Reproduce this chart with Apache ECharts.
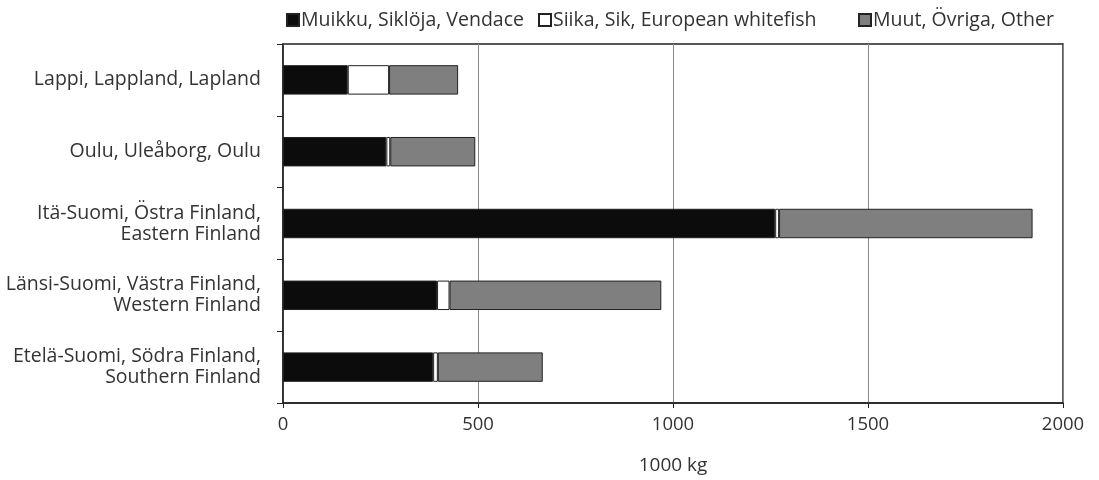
<!DOCTYPE html>
<html>
<head>
<meta charset="utf-8">
<script src="https://cdn.jsdelivr.net/npm/echarts@6/dist/echarts.min.js"></script>
<style>html,body{margin:0;padding:0;background:#fff}#c{width:1099px;height:480px}</style>
</head>
<body>
<div id="c"></div>
<script>
const categories = [
  'Lappi, Lappland, Lapland',
  'Oulu, Uleåborg, Oulu',
  'Itä-Suomi, Östra Finland,\nEastern Finland',
  'Länsi-Suomi, Västra Finland,\nWestern Finland',
  'Etelä-Suomi, Södra Finland,\nSouthern Finland'
];
const seriesNames = ['Muikku, Siklöja, Vendace', 'Siika, Sik, European whitefish', 'Muut, Övriga, Other'];
const vendace = [166, 265, 1262, 395, 385];
const whitefish = [106, 10, 10, 32, 12];
const other = [177, 218, 650, 543, 269];
const xTicks = [0, 500, 1000, 1500, 2000];
const xTitle = '1000 kg';

const FONT = '"Open Sans", "Noto Sans", sans-serif';
const TXT = '#333';
const colors = ['#0c0c0c', '#ffffff', '#7f7f7f'];
const values = [vendace, whitefish, other];

const chart = echarts.init(document.getElementById('c'), null, {renderer: 'canvas'});
const legendLefts = [281, 533, 853];
chart.setOption({
  animation: false,
  textStyle: {fontFamily: FONT},
  legend: seriesNames.map((n, i) => ({
    data: [n], left: legendLefts[i], top: 5, icon: 'rect', itemWidth: 12, itemHeight: 12, itemGap: 0,
    textStyle: {fontFamily: FONT, fontSize: 19.5, color: TXT, padding: [0, 0, 0, -3]},
    selectedMode: false
  })),
  grid: {left: 283, right: 36, top: 44, bottom: 77, show: true, borderColor: '#222', borderWidth: 1.5, containLabel: false},
  xAxis: {
    type: 'value', min: xTicks[0], max: xTicks[xTicks.length - 1], interval: 500,
    name: xTitle, nameLocation: 'middle', nameGap: 53,
    nameTextStyle: {fontFamily: FONT, fontSize: 19, color: TXT},
    axisLine: {show: true, lineStyle: {color: '#222', width: 1.5}},
    axisTick: {show: true, length: 5, lineStyle: {color: '#222'}},
    axisLabel: {fontFamily: FONT, fontSize: 18.5, color: TXT, margin: 12, formatter: v => String(v)},
    splitLine: {show: true, lineStyle: {color: '#888', width: 1}}
  },
  yAxis: {
    type: 'category', data: categories, inverse: true,
    axisLine: {show: true, lineStyle: {color: '#222', width: 1.5}},
    axisTick: {show: true, length: 6, lineStyle: {color: '#222'}},
    axisLabel: {fontFamily: FONT, fontSize: 19.5, color: TXT, lineHeight: 21, margin: 22, align: 'right'},
    splitLine: {show: false}
  },
  series: seriesNames.map((n, i) => ({
    name: n, type: 'bar', stack: 'total', data: values[i], barWidth: '41%',
    itemStyle: {color: colors[i], borderColor: '#222', borderWidth: 1}
  }))
});
</script>
</body>
</html>
